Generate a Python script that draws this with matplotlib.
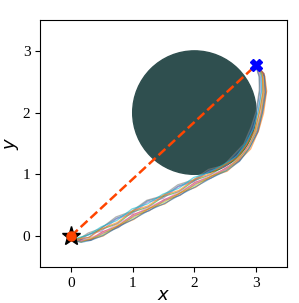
import matplotlib
matplotlib.use("Agg")
import matplotlib.pyplot as plt
from matplotlib.patches import Circle

plt.rcParams['font.family'] = ['Liberation Serif', 'DejaVu Serif']
plt.rcParams['mathtext.fontset'] = 'dejavusans'

start = (0.0, 0.0)
goal = (3.0, 2.77)
obstacle_center = (2.0, 2.0)
obstacle_radius = 1.0

traj_x = [
    [0, 0.05, 0.14, 0.29, 0.49, 0.74, 0.99, 1.24, 1.49, 1.74, 1.99, 2.24, 2.48, 2.66, 2.81, 2.93, 3.01, 3.06, 3.05, 2.99],
    [0, 0.07, 0.17, 0.32, 0.52, 0.77, 1.02, 1.27, 1.52, 1.77, 2.02, 2.27, 2.53, 2.74, 2.91, 3.04, 3.12, 3.17, 3.14, 3.02],
    [0, 0.06, 0.15, 0.30, 0.50, 0.75, 1.00, 1.25, 1.50, 1.75, 2.00, 2.25, 2.50, 2.70, 2.86, 2.98, 3.06, 3.11, 3.10, 3.00],
    [0, 0.06, 0.16, 0.31, 0.51, 0.76, 1.01, 1.26, 1.51, 1.76, 2.01, 2.26, 2.52, 2.72, 2.88, 3.01, 3.09, 3.14, 3.12, 3.01],
    [0, 0.05, 0.14, 0.29, 0.49, 0.74, 0.99, 1.24, 1.49, 1.74, 1.99, 2.24, 2.49, 2.68, 2.83, 2.95, 3.03, 3.08, 3.07, 3.00],
    [0, 0.07, 0.17, 0.32, 0.52, 0.77, 1.02, 1.27, 1.52, 1.77, 2.02, 2.27, 2.52, 2.73, 2.90, 3.03, 3.11, 3.16, 3.13, 3.01],
    [0, 0.06, 0.15, 0.30, 0.50, 0.75, 1.00, 1.25, 1.50, 1.75, 2.00, 2.25, 2.51, 2.71, 2.87, 2.99, 3.07, 3.12, 3.10, 3.00],
    [0, 0.05, 0.13, 0.28, 0.48, 0.73, 0.98, 1.23, 1.48, 1.73, 1.98, 2.23, 2.47, 2.65, 2.80, 2.92, 3.00, 3.05, 3.05, 2.99],
    [0, 0.06, 0.16, 0.31, 0.51, 0.76, 1.01, 1.26, 1.51, 1.76, 2.01, 2.26, 2.51, 2.71, 2.87, 3.00, 3.08, 3.13, 3.11, 3.00],
    [0, 0.05, 0.14, 0.29, 0.49, 0.74, 0.99, 1.24, 1.49, 1.74, 1.99, 2.24, 2.49, 2.69, 2.84, 2.96, 3.04, 3.09, 3.08, 3.00],
    [0, 0.07, 0.17, 0.32, 0.52, 0.77, 1.02, 1.27, 1.52, 1.77, 2.02, 2.27, 2.52, 2.73, 2.89, 3.02, 3.10, 3.15, 3.13, 3.01],
    [0, 0.06, 0.15, 0.30, 0.50, 0.75, 1.00, 1.25, 1.50, 1.75, 2.00, 2.25, 2.50, 2.70, 2.86, 2.98, 3.06, 3.11, 3.10, 3.00],
]
traj_y = [
    [0, -0.04, -0.06, -0.02, 0.13, 0.29, 0.39, 0.57, 0.64, 0.81, 0.90, 1.06, 1.13, 1.32, 1.48, 1.76, 2.02, 2.36, 2.58, 2.77],
    [0, -0.07, -0.09, -0.05, 0.00, 0.17, 0.27, 0.45, 0.52, 0.70, 0.79, 0.97, 1.05, 1.24, 1.41, 1.71, 1.99, 2.35, 2.59, 2.76],
    [0, -0.05, -0.03, 0.03, 0.11, 0.20, 0.39, 0.47, 0.64, 0.72, 0.90, 0.99, 1.14, 1.25, 1.48, 1.70, 2.03, 2.32, 2.60, 2.77],
    [0, -0.07, -0.08, -0.06, 0.07, 0.16, 0.35, 0.44, 0.59, 0.69, 0.87, 0.96, 1.11, 1.24, 1.47, 1.70, 2.03, 2.33, 2.63, 2.77],
    [0, -0.05, -0.07, 0.03, 0.08, 0.28, 0.36, 0.55, 0.61, 0.80, 0.88, 1.05, 1.12, 1.30, 1.46, 1.75, 2.00, 2.35, 2.57, 2.78],
    [0, -0.08, -0.06, -0.07, 0.05, 0.14, 0.33, 0.41, 0.58, 0.66, 0.85, 0.94, 1.09, 1.22, 1.45, 1.69, 2.03, 2.33, 2.63, 2.76],
    [0, -0.06, -0.09, -0.03, 0.04, 0.20, 0.32, 0.47, 0.57, 0.72, 0.84, 0.99, 1.08, 1.26, 1.42, 1.72, 1.98, 2.34, 2.56, 2.77],
    [0, -0.03, -0.05, 0.05, 0.12, 0.31, 0.40, 0.58, 0.65, 0.83, 0.91, 1.08, 1.14, 1.33, 1.49, 1.77, 2.02, 2.36, 2.58, 2.78],
    [0, -0.06, -0.10, -0.04, 0.02, 0.18, 0.30, 0.45, 0.55, 0.70, 0.82, 0.97, 1.06, 1.25, 1.41, 1.71, 1.97, 2.34, 2.56, 2.77],
    [0, -0.05, -0.02, 0.02, 0.15, 0.25, 0.44, 0.52, 0.68, 0.77, 0.95, 1.03, 1.17, 1.29, 1.52, 1.74, 2.06, 2.35, 2.64, 2.77],
    [0, -0.08, -0.10, -0.07, 0.01, 0.15, 0.28, 0.42, 0.53, 0.67, 0.80, 0.94, 1.06, 1.21, 1.42, 1.69, 2.00, 2.33, 2.59, 2.76],
    [0, -0.06, -0.04, -0.02, 0.12, 0.22, 0.41, 0.49, 0.66, 0.74, 0.92, 1.01, 1.16, 1.27, 1.51, 1.72, 2.05, 2.34, 2.63, 2.77],
]

fig = plt.figure(figsize=(2.99, 3.03), dpi=100)
ax = fig.add_axes([0.134, 0.119, 0.826, 0.815])

ax.add_patch(Circle(obstacle_center, obstacle_radius, color='#2F4F4F', zorder=1))

colors = plt.rcParams['axes.prop_cycle'].by_key()['color']
for i, (xs, ys) in enumerate(zip(traj_x, traj_y)):
    ax.plot(xs, ys, color=colors[i % len(colors)], lw=0.9, alpha=0.6, zorder=2)

ax.plot([start[0], goal[0]], [start[1], goal[1]], '--', color='#FF4500', lw=1.8, zorder=3)
ax.plot(*start, marker='*', color='black', markersize=14, zorder=4, linestyle='none')
ax.plot(*start, marker='o', color='#FF4500', markersize=6.5, zorder=5, linestyle='none')
ax.plot(*goal, marker='X', color='blue', markersize=9, zorder=5, linestyle='none')

ax.set_xlim(-0.5, 3.5)
ax.set_ylim(-0.5, 3.5)
ax.set_xticks([0, 1, 2, 3])
ax.set_yticks([0, 1, 2, 3])
ax.tick_params(labelsize=11)
ax.set_xlabel('$x$', fontsize=13, labelpad=-2)
ax.set_ylabel('$y$', fontsize=13, labelpad=1)

fig.savefig('out.png', dpi=100)
